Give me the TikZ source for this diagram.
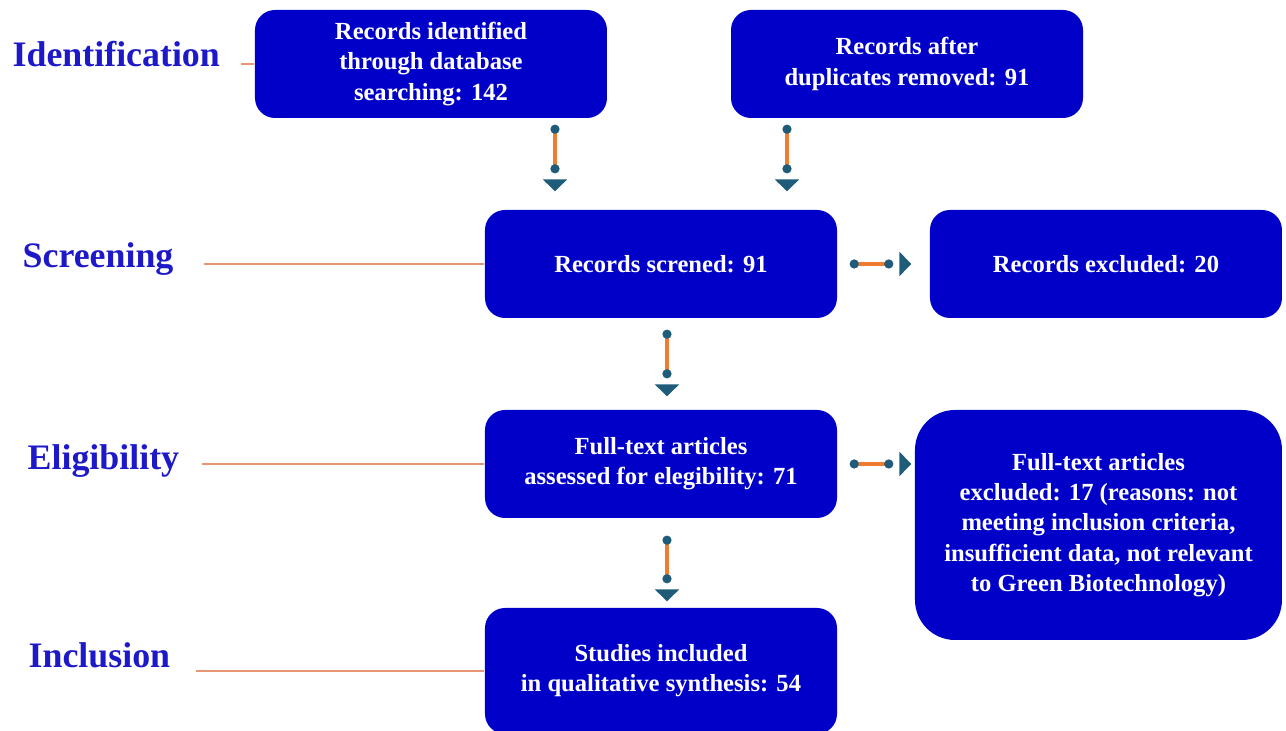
\documentclass[tikz,border=0pt]{standalone}
\usepackage{fontspec}
\setmainfont{Liberation Serif}
\usepackage{tikz}
\usetikzlibrary{arrows.meta}
\definecolor{boxblue}{RGB}{0,0,200}
\definecolor{stageblue}{RGB}{30,25,200}
\definecolor{flowline}{RGB}{237,125,49}
\definecolor{flowtip}{RGB}{31,92,122}
\definecolor{guideline}{RGB}{230,150,115}
\tikzset{
    stagebox/.style={
        rectangle,
        rounded corners=0.2cm,
        fill=boxblue,
        text=white,
        align=center,
        font=\bfseries\fontsize{7}{8.6}\selectfont,
        minimum width=3.52cm,
        minimum height=1.08cm,
        inner sep=2pt
    },
    stagelabel/.style={
        text=stageblue,
        inner sep=0pt,
        anchor=base west,
        font=\bfseries\fontsize{10.2}{12}\selectfont
    },
    guide/.style={
        draw=guideline,
        line width=0.6pt
    },
    flow/.style={
        draw=flowline,
        line width=0.9pt,
        {Circle[length=0.09cm,color=flowtip]}-{Circle[length=0.09cm,color=flowtip,sep=0.06cm] . Triangle[length=0.12cm,width=0.24cm,color=flowtip]}
    }
}
\begin{document}
\begin{tikzpicture}
        \useasboundingbox (0,0) rectangle (12.86,7.31);

        \node[stagebox] (ident) at (4.31,6.67) {Records identified\\through database\\searching: 142};
        \node[stagebox] (dedup) at (9.07,6.67) {Records after\\duplicates removed: 91};
        \node[stagebox] (screen) at (6.61,4.67) {Records screned: 91};
        \node[stagebox] (excl) at (11.06,4.67) {Records excluded: 20};
        \node[stagebox] (elig) at (6.61,2.67) {Full-text articles\\assessed for elegibility: 71};
        \node[stagebox,rounded corners=0.4cm,minimum width=3.67cm,minimum height=2.3cm] (fullexcl) at (10.985,2.06)
            {Full-text articles\\excluded: 17 (reasons: not\\meeting inclusion criteria,\\insufficient data, not relevant\\to Green Biotechnology)};
        \node[stagebox,minimum height=1.26cm] (incl) at (6.61,0.60) {Studies included\\in qualitative synthesis: 54};

        \node[stagelabel] (lident) at (0.12,6.64) {Identification};
        \node[stagelabel] (lscreen) at (0.22,4.63) {Screening};
        \node[stagelabel] (lelig) at (0.27,2.61) {Eligibility};
        \node[stagelabel] (lincl) at (0.28,0.63) {Inclusion};

        \draw[guide,shorten <=0.2cm] (lident.east |- ident.west) -- (ident.west);
        \draw[guide,shorten <=0.3cm] (lscreen.east |- screen.west) -- (screen.west);
        \draw[guide,shorten <=0.22cm] (lelig.east |- elig.west) -- (elig.west);
        \draw[guide,shorten <=0.25cm] (lincl.east |- incl.west) -- (incl.west);

        \draw[flow,shorten <=0.06cm,shorten >=0.18cm] ([xshift=-1.06cm]screen.north |- ident.south) -- ([xshift=-1.06cm]screen.north);
        \draw[flow,shorten <=0.06cm,shorten >=0.18cm] ([xshift=1.26cm]screen.north |- dedup.south) -- ([xshift=1.26cm]screen.north);
        \draw[flow,shorten <=0.12cm,shorten >=0.18cm] (screen.east) -- (excl.west);
        \draw[flow,shorten <=0.11cm,shorten >=0.13cm] ([xshift=0.06cm]screen.south) -- ([xshift=0.06cm]elig.north);
        \draw[flow,shorten <=0.12cm,shorten >=0.03cm] (elig.east) -- (elig.east -| fullexcl.west);
        \draw[flow,shorten <=0.17cm,shorten >=0.06cm] ([xshift=0.06cm]elig.south) -- ([xshift=0.06cm]incl.north);
\end{tikzpicture}
\end{document}
